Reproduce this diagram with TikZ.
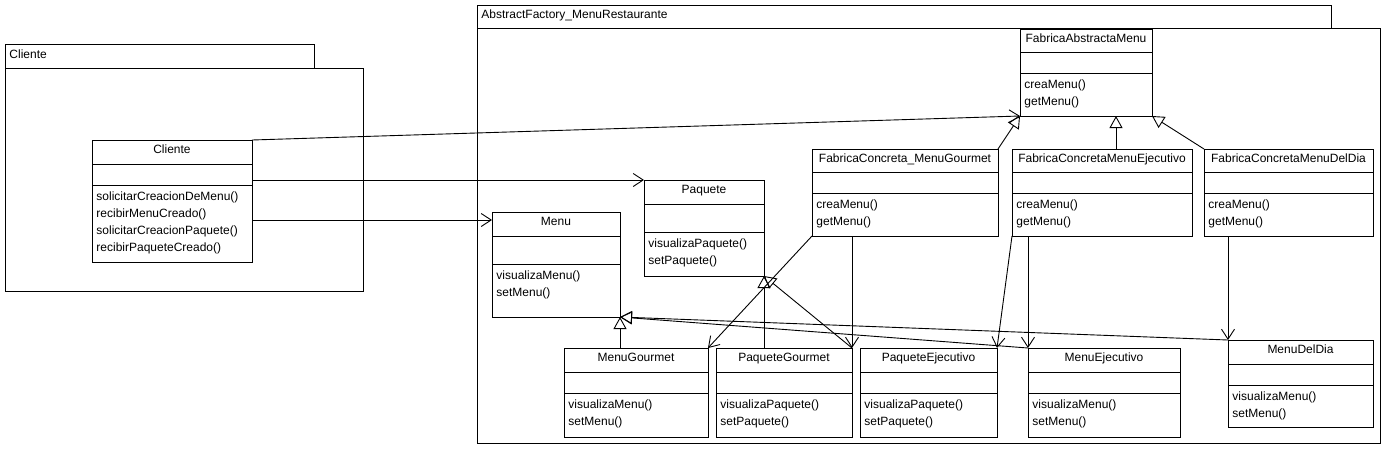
\documentclass[tikz,border=0pt]{standalone}
\usepackage{fontspec}
\setmainfont{Liberation Sans}
\usetikzlibrary{arrows.meta}

% class box: id, x, y, width, height, y of 1st rule, y of 2nd rule, name, operations
\newcommand{\umlclass}[9]{%
  \node[cls, minimum width=#4pt, minimum height=#5pt] (#1) at (#2,#3) {};
  \draw (#2,#6) -- ({#2+#4},#6);
  \draw (#2,#7) -- ({#2+#4},#7);
  \node[clsname] (#1-name) at ({#2+#4/2},{#3+13.5}) {#8};
  \foreach \op [count=\k] in {#9}
    \node[clsop] (#1-op\k) at ({#2+4},{#7+15+17*(\k-1)}) {\op};
}

\begin{document}
\begin{tikzpicture}[x=1pt,y=-1pt,line width=0.9pt,
    font=\fontsize{12}{14}\selectfont,
    cls/.style={draw, anchor=north west, inner sep=0pt, outer sep=0pt},
    pkg/.style={draw, anchor=north west, inner sep=0pt, outer sep=0pt},
    clsname/.style={anchor=base, inner sep=0pt},
    clsop/.style={anchor=base west, inner sep=0pt},
    pkgname/.style={anchor=base west, inner sep=0pt},
    nav/.style={-{Straight Barb[length=10pt,width=13pt]}},
    gen/.style={-{Triangle[open,length=12pt,width=13pt]}}]
    \useasboundingbox (0,0) rectangle (1384,448);

    % packages
    \node[pkg, minimum width=309pt, minimum height=24pt] (clienteTab) at (5,44) {};
    \node[pkg, minimum width=358pt, minimum height=223pt] (clientePkg) at (5,68) {};
    \node[pkgname] (clienteTabName) at (9,58) {Cliente};
    \node[pkg, minimum width=854pt, minimum height=23pt] (afTab) at (477,5) {};
    \node[pkg, minimum width=903pt, minimum height=415pt] (afPkg) at (477,28) {};
    \node[pkgname] (afTabName) at (481,18) {AbstractFactory\_MenuRestaurante};

    % classes
    \umlclass{cliente}{92}{140}{160}{122}{164}{185}{Cliente}{solicitarCreacionDeMenu(),recibirMenuCreado(),solicitarCreacionPaquete(),recibirPaqueteCreado()}
    \umlclass{fabAbs}{1020}{29}{132}{87}{52}{73}{FabricaAbstractaMenu}{creaMenu(),getMenu()}
    \umlclass{fcGourmet}{812}{149}{186}{87}{172}{193}{FabricaConcreta\_MenuGourmet}{creaMenu(),getMenu()}
    \umlclass{fcEjec}{1012}{149}{180}{87}{172}{193}{FabricaConcretaMenuEjecutivo}{creaMenu(),getMenu()}
    \umlclass{fcDia}{1204}{149}{169}{87}{172}{193}{FabricaConcretaMenuDelDia}{creaMenu(),getMenu()}
    \umlclass{paquete}{644}{180}{120}{96}{204}{232}{Paquete}{visualizaPaquete(),setPaquete()}
    \umlclass{menu}{492}{212}{128}{105}{236}{264}{Menu}{visualizaMenu(),setMenu()}
    \umlclass{menuGourmet}{564}{348}{144}{89}{372}{393}{MenuGourmet}{visualizaMenu(),setMenu()}
    \umlclass{paqGourmet}{716}{348}{136}{89}{372}{393}{PaqueteGourmet}{visualizaPaquete(),setPaquete()}
    \umlclass{paqEjec}{860}{348}{137}{89}{372}{393}{PaqueteEjecutivo}{visualizaPaquete(),setPaquete()}
    \umlclass{menuEjec}{1028}{348}{152}{89}{372}{393}{MenuEjecutivo}{visualizaMenu(),setMenu()}
    \umlclass{menuDia}{1228}{340}{145}{87}{364}{385}{MenuDelDia}{visualizaMenu(),setMenu()}

    % associations from the client
    \coordinate (menuIn) at ([yshift=-8pt]menu.north west);
    \draw[nav] (cliente.north east) -- (fabAbs.south west);
    \draw[nav] (cliente.east |- paquete.north west) -- (paquete.north west);
    \draw[nav] (cliente.east |- menuIn) -- (menuIn);

    % generalizations
    \coordinate (fcEjecUp) at ([xshift=14pt]fcEjec.north);
    \draw[gen] (fcGourmet.north east) -- (fabAbs.south west);
    \draw[gen] (fcEjecUp) -- (fcEjecUp |- fabAbs.south);
    \draw[gen] (fcDia.north west) -- (fabAbs.south east);
    \draw[gen] (menuGourmet.north -| menu.south east) -- (menu.south east);
    \draw[gen] (menuEjec.north west) -- (menu.south east);
    \draw[gen] (menuDia.north west) -- (menu.south east);
    \draw[gen] (paqGourmet.north -| paquete.south east) -- (paquete.south east);
    \draw[gen] (paqGourmet.north east) -- (paquete.south east);

    % dependencies of the concrete factories
    \draw[nav] (fcGourmet.south west) -- (menuGourmet.north east);
    \draw[nav] (paqGourmet.north east |- fcGourmet.south) -- (paqGourmet.north east);
    \draw[nav] (fcEjec.south west) -- (paqEjec.north east);
    \draw[nav] (menuEjec.north west |- fcEjec.south) -- (menuEjec.north west);
    \draw[nav] (menuDia.north west |- fcDia.south) -- (menuDia.north west);
\end{tikzpicture}
\end{document}
